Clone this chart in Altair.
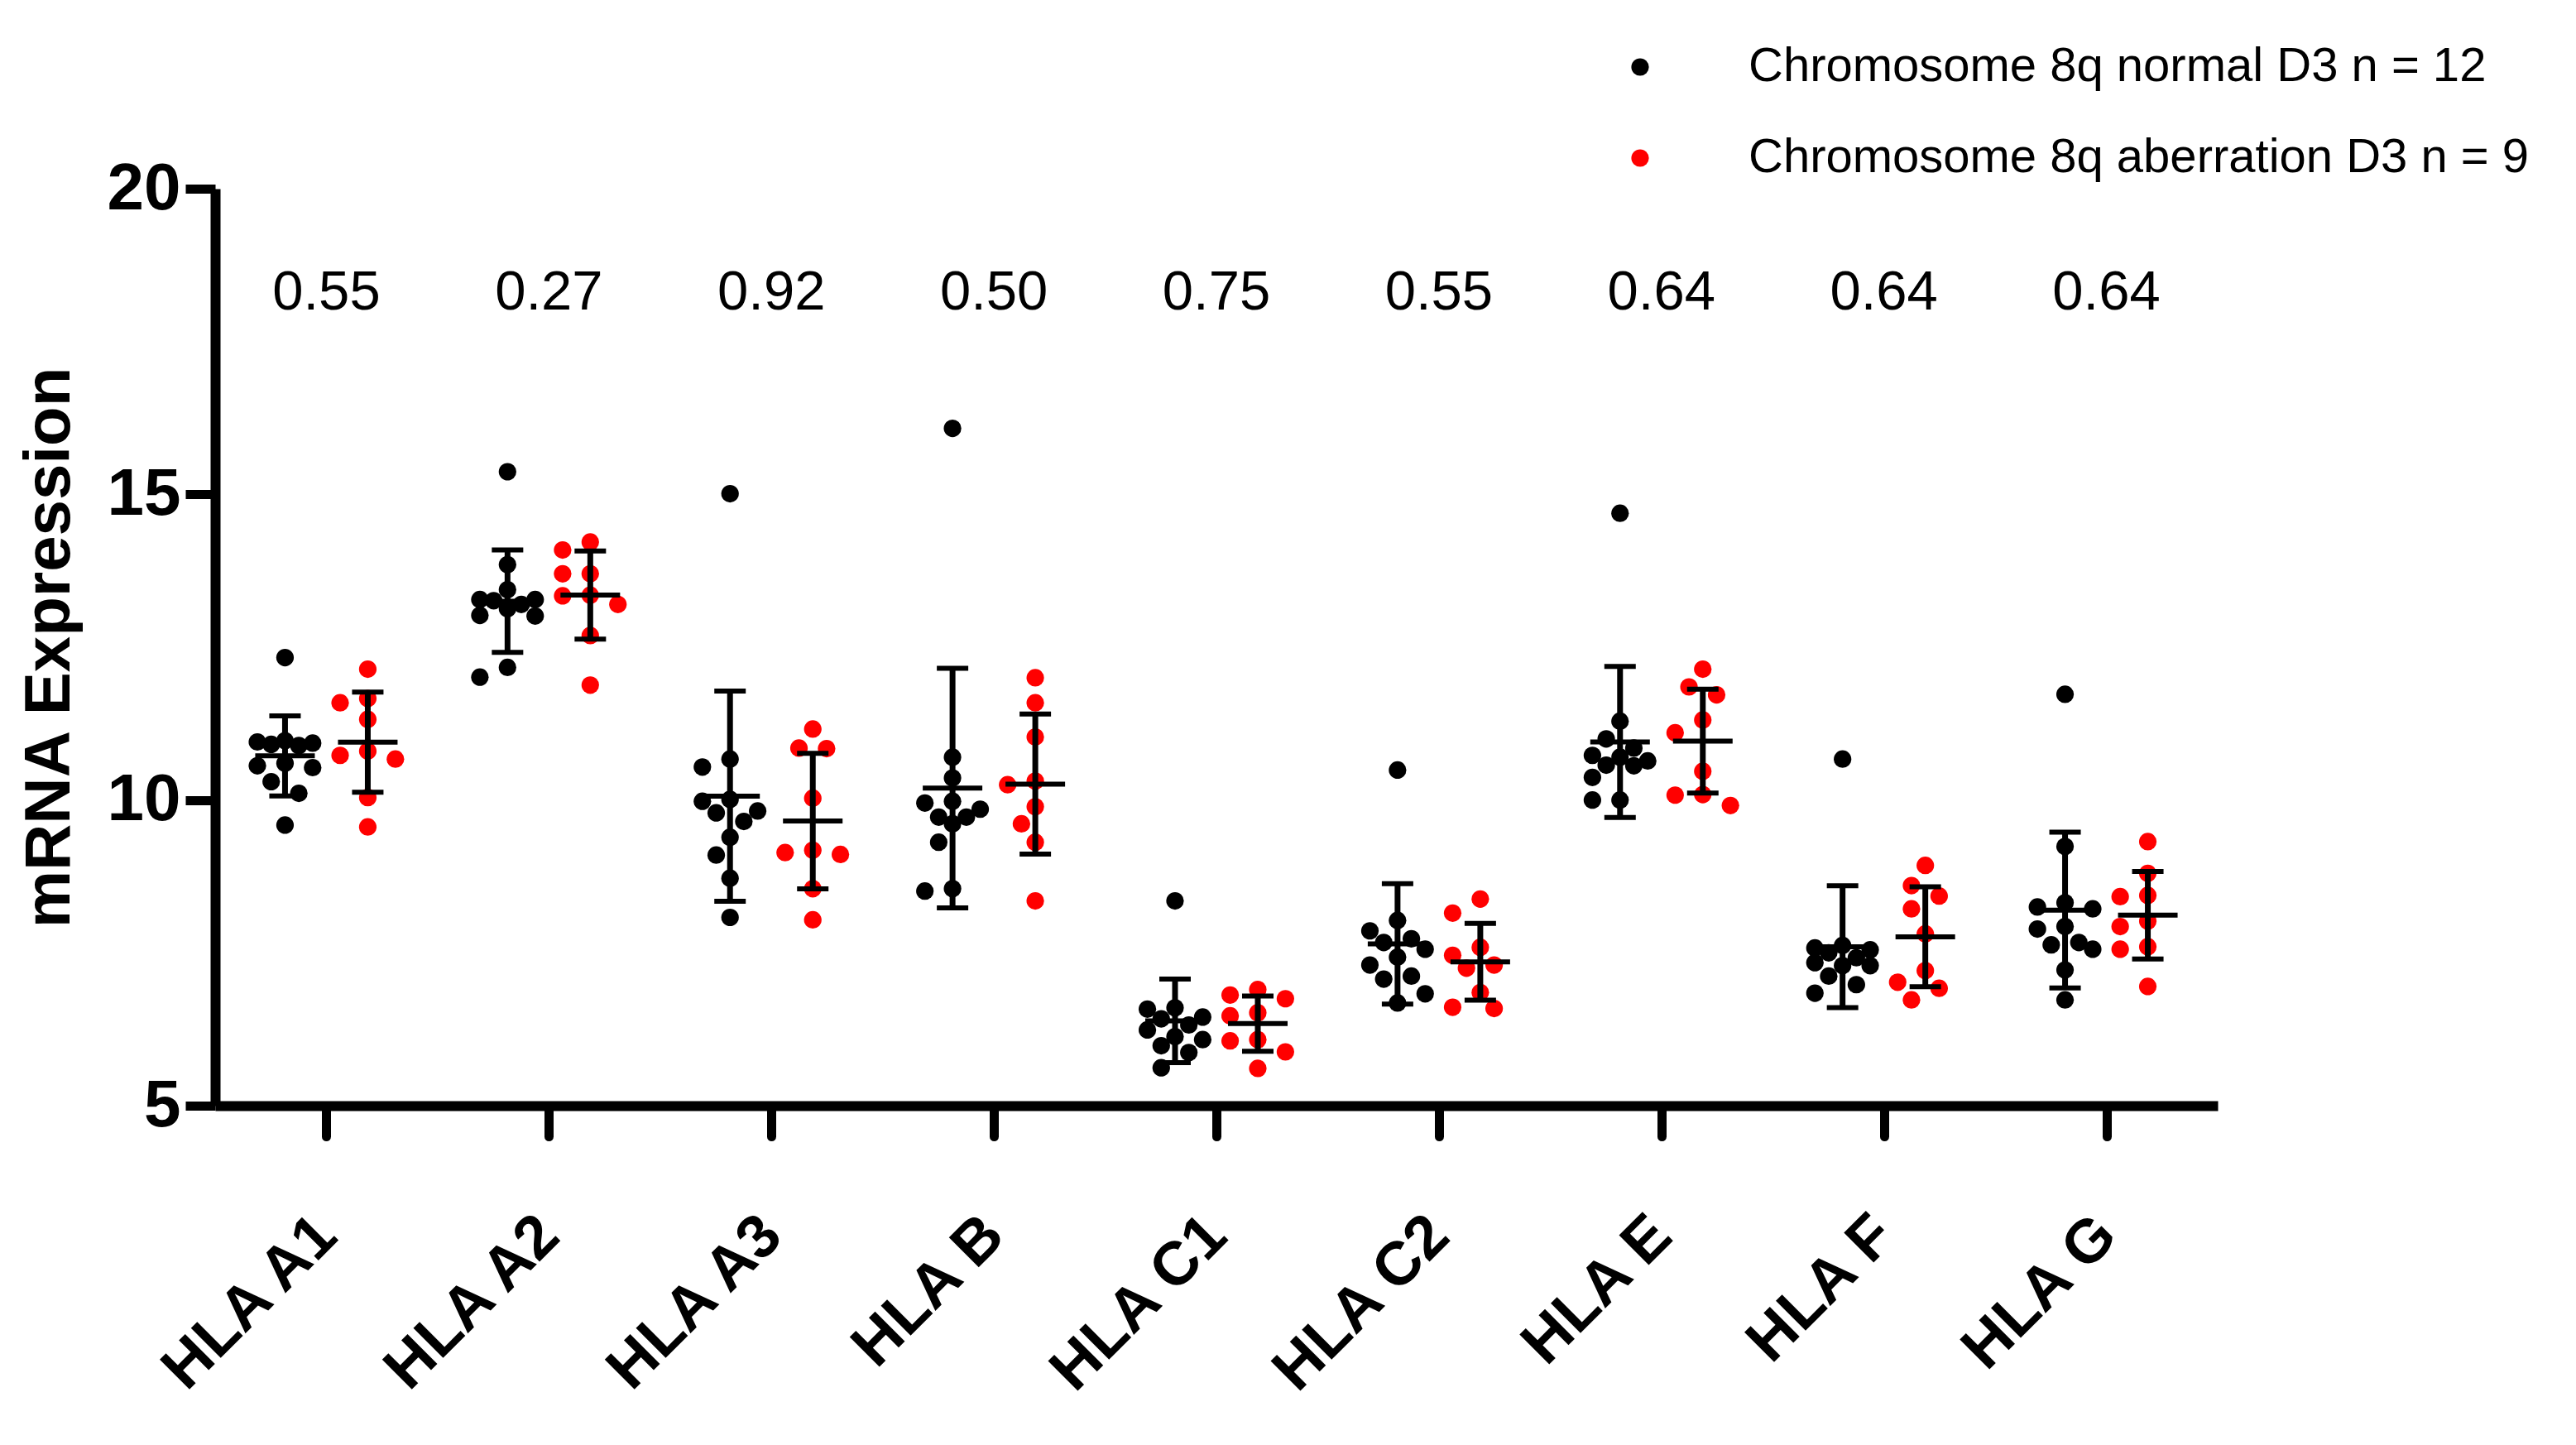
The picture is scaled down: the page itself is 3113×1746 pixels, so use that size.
import json
import math
import altair as alt
import pandas as pd

# ---------------- data ----------------
genes = ["HLA A1", "HLA A2", "HLA A3", "HLA B", "HLA C1", "HLA C2", "HLA E", "HLA F", "HLA G"]
p_values = ["0.55", "0.27", "0.92", "0.50", "0.75", "0.55", "0.64", "0.64", "0.64"]
series_names = ["Chromosome 8q normal D3 n = 12", "Chromosome 8q aberration D3 n = 9"]

# Chromosome 8q normal (n = 12)
normal_a1 = [12.33, 10.97, 10.95, 10.93, 10.91, 10.89, 10.60, 10.56, 10.53, 10.30, 10.11, 9.59]
normal_a2 = [15.37, 13.85, 13.44, 13.28, 13.28, 13.26, 13.20, 13.13, 13.02, 13.01, 12.17, 12.01]
normal_a3 = [15.01, 10.67, 10.54, 10.01, 9.98, 9.82, 9.79, 9.65, 9.39, 9.10, 8.72, 8.08]
normal_b = [16.08, 10.70, 10.36, 9.98, 9.95, 9.85, 9.72, 9.72, 9.61, 9.31, 8.55, 8.51]
normal_c1 = [8.35, 6.60, 6.58, 6.45, 6.42, 6.32, 6.24, 6.13, 6.08, 5.98, 5.87, 5.62]
normal_c2 = [10.49, 8.03, 7.86, 7.73, 7.67, 7.56, 7.43, 7.30, 7.12, 7.07, 6.83, 6.68]
normal_e = [14.69, 11.29, 11.00, 10.85, 10.73, 10.70, 10.64, 10.57, 10.56, 10.37, 10.00, 10.00]
normal_f = [10.67, 7.62, 7.58, 7.55, 7.50, 7.42, 7.34, 7.29, 7.29, 7.12, 6.98, 6.84]
normal_g = [11.73, 9.24, 8.32, 8.25, 8.22, 7.93, 7.89, 7.67, 7.63, 7.56, 7.22, 6.73]

# Chromosome 8q aberration (n = 9)
aberr_a1 = [12.14, 11.66, 11.59, 11.32, 10.80, 10.73, 10.67, 10.04, 9.56]
aberr_a2 = [14.22, 14.09, 13.70, 13.70, 13.35, 13.34, 13.20, 12.69, 11.88]
aberr_a3 = [11.16, 10.85, 10.84, 10.03, 9.18, 9.14, 9.11, 8.55, 8.04]
aberr_b = [12.00, 11.59, 11.03, 10.31, 10.25, 9.89, 9.61, 9.31, 8.35]
aberr_c1 = [6.90, 6.81, 6.75, 6.52, 6.47, 6.08, 6.06, 5.88, 5.61]
aberr_c2 = [8.38, 8.15, 7.59, 7.46, 7.30, 7.25, 6.85, 6.61, 6.59]
aberr_e = [12.14, 11.85, 11.72, 11.31, 11.10, 10.47, 10.09, 10.08, 9.91]
aberr_f = [8.93, 8.60, 8.43, 8.22, 7.81, 7.21, 7.02, 6.92, 6.73]
aberr_g = [9.32, 8.80, 8.44, 8.42, 8.02, 7.93, 7.60, 7.56, 6.95]

normal_sets = [normal_a1, normal_a2, normal_a3, normal_b, normal_c1, normal_c2, normal_e, normal_f, normal_g]
aberr_sets = [aberr_a1, aberr_a2, aberr_a3, aberr_b, aberr_c1, aberr_c2, aberr_e, aberr_f, aberr_g]

# ---------------- layout ----------------
PLOT_W = 2420
PLOT_H = 1108
Y_DOMAIN = [5, 20]
X_DOMAIN = [-0.5, 8.5]
PX_PER_Y = PLOT_H / (Y_DOMAIN[1] - Y_DOMAIN[0])
PX_PER_X = PLOT_W / (X_DOMAIN[1] - X_DOMAIN[0])
SERIES_SHIFT = 50 / PX_PER_X
STEP = 16.7   # px between swarm columns
DIAM = 25     # px collision distance


def swarm_offsets(vals):
    """Deterministic beeswarm layout (column scatter), returns px offsets."""
    order = sorted(range(len(vals)), key=lambda i: -vals[i])
    placed = []
    offs = [0.0] * len(vals)
    for i in order:
        y = vals[i] * PX_PER_Y
        chosen = None
        best_x, best_d = 0.0, -1.0
        for k in [0, -1, 1, -2, 2]:
            x = k * STEP
            d = min((math.hypot(x - px, y - py) for px, py in placed), default=1e9)
            if d >= DIAM:
                chosen = x
                break
            if d > best_d:
                best_d, best_x = d, x
        if chosen is None:
            chosen = best_x
        placed.append((chosen, y))
        offs[i] = chosen
    return offs


rows = []
for gi, gene in enumerate(genes):
    for si, sets in enumerate([normal_sets, aberr_sets]):
        vals = sets[gi]
        xc = gi + (-SERIES_SHIFT if si == 0 else SERIES_SHIFT)
        for v, o in zip(vals, swarm_offsets(vals)):
            rows.append({"gene": gene, "series": series_names[si], "value": v,
                         "xc": xc, "xpos": xc + o / PX_PER_X})
df = pd.DataFrame(rows)
ptext = pd.DataFrame({"gi": list(range(len(genes))), "p": p_values})

FONT = "Liberation Sans"

x_scale = alt.Scale(domain=X_DOMAIN, nice=False, zero=False)
y_scale = alt.Scale(domain=Y_DOMAIN, nice=False, zero=False)

x_axis = alt.Axis(
    values=list(range(len(genes))),
    labelExpr=json.dumps(genes) + "[datum.value]",
    title=None, grid=False,
    labelAngle=-45, labelAlign="right", labelBaseline="middle",
    labelPadding=108, labelFont=FONT, labelFontSize=74, labelFontWeight="bold",
    labelColor="black", labelOverlap=False, labelFlush=False, labelLimit=2000,
    tickSize=37, tickWidth=11, tickColor="black", tickCap="round",
    domainWidth=12, domainColor="black",
)
y_axis = alt.Axis(
    values=[5, 10, 15, 20], format="d", title="mRNA Expression", grid=False,
    labelFont=FONT, labelFontSize=80, labelFontWeight="bold", labelColor="black",
    labelPadding=6, tickSize=36, tickWidth=11, tickColor="black",
    domainWidth=12, domainColor="black",
    titleFont=FONT, titleFontSize=78, titleFontWeight="bold", titleColor="black",
    titlePadding=30, titleLimit=2000,
)

color = alt.Color(
    "series:N",
    scale=alt.Scale(domain=series_names, range=["#000000", "#ff0000"]),
    legend=alt.Legend(
        orient="none", legendX=1693, legendY=-176, title=None,
        labelFont=FONT, labelFontSize=58, labelLimit=1500, labelColor="black",
        symbolType="circle", symbolSize=450, symbolOpacity=1, symbolStrokeWidth=0,
        labelOffset=102, rowPadding=52, padding=0,
    ),
)

points = alt.Chart(df).mark_circle(size=450, opacity=1).encode(
    x=alt.X("xpos:Q", scale=x_scale, axis=x_axis),
    y=alt.Y("value:Q", scale=y_scale, axis=y_axis),
    color=color,
)

agg = alt.Chart(df).transform_aggregate(
    mean="mean(value)", sd="stdev(value)", groupby=["xc"]
).transform_calculate(lo="datum.mean - datum.sd", hi="datum.mean + datum.sd")

xe = alt.X("xc:Q", scale=x_scale, axis=x_axis)

sd_rule = agg.mark_rule(color="black", strokeWidth=7).encode(
    x=xe, y=alt.Y("lo:Q", scale=y_scale, axis=y_axis), y2="hi:Q")
mean_tick = agg.mark_tick(orient="horizontal", size=72, thickness=6, color="black", opacity=1).encode(
    x=xe, y=alt.Y("mean:Q", scale=y_scale, axis=y_axis))
cap_lo = agg.mark_tick(orient="horizontal", size=38, thickness=6, color="black", opacity=1).encode(
    x=xe, y=alt.Y("lo:Q", scale=y_scale, axis=y_axis))
cap_hi = agg.mark_tick(orient="horizontal", size=38, thickness=6, color="black", opacity=1).encode(
    x=xe, y=alt.Y("hi:Q", scale=y_scale, axis=y_axis))

ptext_layer = alt.Chart(ptext).mark_text(
    font=FONT, fontSize=67, color="black", align="center", baseline="middle"
).encode(
    x=alt.X("gi:Q", scale=x_scale, axis=x_axis),
    y=alt.datum(18.3),
    text="p:N",
)

chart = alt.layer(points, sd_rule, mean_tick, cap_lo, cap_hi, ptext_layer).properties(
    width=PLOT_W, height=PLOT_H,
    autosize=alt.AutoSizeParams(type="none"),
    padding={"left": 252, "top": 220, "right": 420, "bottom": 400},
    background="white",
).configure(font=FONT).configure_view(strokeWidth=0, stroke="transparent")

chart.save("out.html", embed_options={"renderer": "svg", "actions": False})
